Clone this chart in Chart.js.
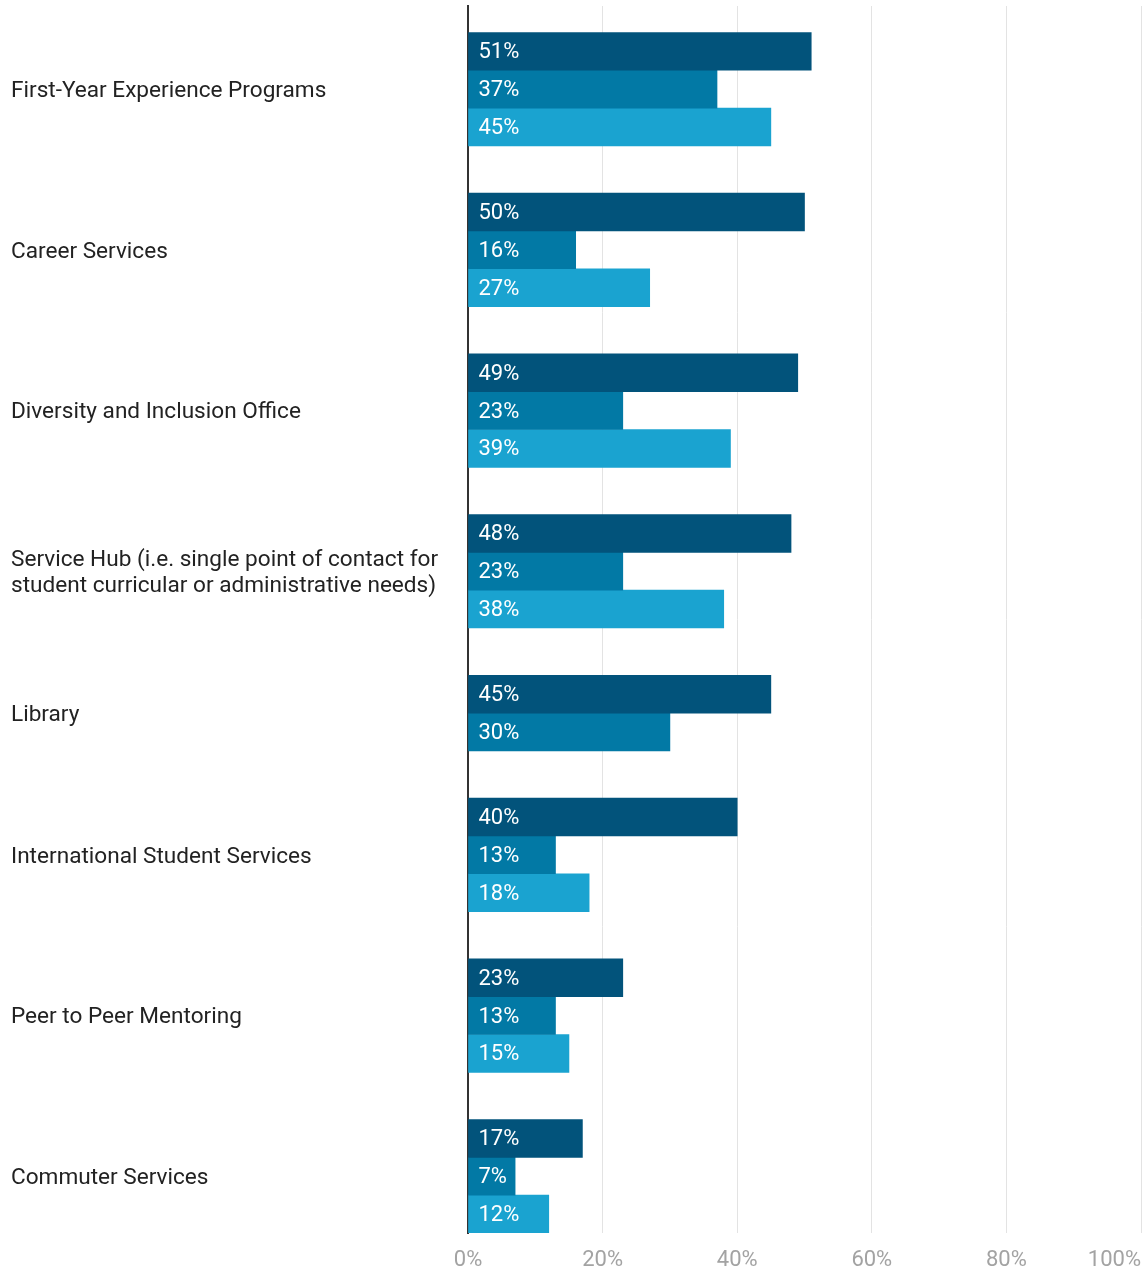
<!DOCTYPE html>
<html lang="en">
  <head>
    <meta charset="UTF-8" />
    <script src="https://cdn.jsdelivr.net/npm/chart.js"></script>
    <title>Student services</title>
    <style>
      html, body { margin: 0; padding: 0; background: #fff; }
      #wrap { width: 1144px; height: 1270px; }
    </style>
  </head>

  <body>
    <div id="wrap">
      <canvas id="myChart"></canvas>
    </div>

    <script>
      // Categories (top to bottom) and the three series, in percent
      const categories = [
        "First-Year Experience Programs",
        "Career Services",
        "Diversity and Inclusion Office",
        ["Service Hub (i.e. single point of contact for", "student curricular or administrative needs)"],
        "Library",
        "International Student Services",
        "Peer to Peer Mentoring",
        "Commuter Services",
      ];
      const seriesA = [51, 50, 49, 48, 45, 40, 23, 17];
      const seriesB = [37, 16, 23, 23, 30, 13, 13, 7];
      const seriesC = [45, 27, 39, 38, null, 18, 15, 12];
      const xTicks = [0, 20, 40, 60, 80, 100];

      const colors = ["#02537b", "#0279a5", "#1aa3d0"];
      const FONT = "Roboto, 'Noto Sans', sans-serif";

      // Rows are stacked one bar-height apart; groups get a gap between them
      // and a group with a missing value simply takes less room.
      const GROUP_GAP = 1.25;
      const TOP_PAD = 0.7;
      const allSeries = [seriesA, seriesB, seriesC];
      const points = allSeries.map(() => []);
      const groupCenters = [];
      let cursor = 0;
      categories.forEach((cat, i) => {
        const start = cursor;
        allSeries.forEach((s, k) => {
          if (s[i] == null) return;
          points[k].push({ x: s[i], y: cursor + 0.5 });
          cursor += 1;
        });
        groupCenters.push((start + cursor) / 2);
        cursor += GROUP_GAP;
      });
      const yMax = cursor - GROUP_GAP;

      // white value labels at the start of every bar
      const valueLabels = {
        id: "valueLabels",
        afterDatasetsDraw(chart) {
          const ctx = chart.ctx;
          ctx.save();
          ctx.font = "22px " + FONT;
          ctx.fillStyle = "#ffffff";
          ctx.textAlign = "left";
          ctx.textBaseline = "middle";
          chart.data.datasets.forEach((ds, i) => {
            chart.getDatasetMeta(i).data.forEach((bar, j) => {
              ctx.fillText(ds.data[j].x + "%", bar.base + 10, bar.y + 1.5);
            });
          });
          ctx.restore();
        },
      };

      // percent labels under the grid; the last one is kept inside the canvas
      const xLabels = {
        id: "xLabels",
        afterDraw(chart) {
          const ctx = chart.ctx;
          const xs = chart.scales.x;
          ctx.save();
          ctx.font = "22px " + FONT;
          ctx.fillStyle = "#a3a3a3";
          ctx.textBaseline = "middle";
          xTicks.forEach((v, i) => {
            const px = xs.getPixelForValue(v);
            ctx.textAlign = i === xTicks.length - 1 ? "right" : "center";
            ctx.fillText(v + "%", px, chart.chartArea.bottom + 27);
          });
          ctx.restore();
        },
      };

      const ctx = document.getElementById("myChart");

      const chart = new Chart(ctx, {
        type: "bar",
        data: {
          datasets: points.map((p, k) => ({
            data: p,
            backgroundColor: colors[k],
            borderWidth: 0,
            grouped: false,
            barPercentage: 1,
            categoryPercentage: 1,
          })),
        },
        options: {
          indexAxis: "y",
          responsive: true,
          maintainAspectRatio: false,
          animation: false,
          layout: { padding: { top: 6, right: 3, bottom: 37, left: 11 } },
          plugins: {
            legend: { display: false },
            tooltip: { enabled: false },
          },
          scales: {
            x: {
              type: "linear",
              min: 0,
              max: 100,
              ticks: { display: false, stepSize: 20 },
              grid: { color: "#e3e3e3", lineWidth: 1, drawTicks: false },
              border: { display: false },
            },
            y: {
              type: "linear",
              reverse: true,
              offset: false,
              min: -TOP_PAD,
              max: yMax,
              afterBuildTicks: (scale) => {
                scale.ticks = groupCenters.map((v) => ({ value: v }));
              },
              afterFit: (scale) => {
                scale.width = 457;
                scale.paddingTop = 0;
                scale.paddingBottom = 0;
              },
              ticks: {
                autoSkip: false,
                crossAlign: "far",
                padding: 0,
                labelOffset: 2,
                color: "#222222",
                font: { family: FONT, size: 22.6, lineHeight: 1.15 },
                callback: (value, index) => categories[index],
              },
              grid: { display: false },
              border: { display: true, color: "#333333", width: 2 },
            },
          },
        },
        plugins: [valueLabels, xLabels],
      });
    </script>
  </body>
</html>
